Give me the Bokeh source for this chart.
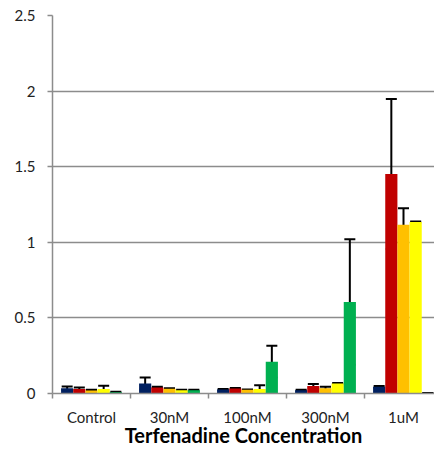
from bokeh.plotting import figure
from bokeh.models import ColumnDataSource, Whisker, FixedTicker, Range1d, TeeHead
from bokeh.embed import file_html
from bokeh.resources import INLINE
import pandas as pd

categories = ["Control", "30nM", "100nM", "300nM", "1uM"]
series = ["S1", "S2", "S3", "S4", "S5"]
colors = ["#002060", "#C00000", "#FFC000", "#FFFF00", "#00B050"]
x_title = "Terfenadine Concentration"

s1_vals = [0.035, 0.066, 0.026, 0.022, 0.044]
s1_errs = [0.012, 0.040, 0.004, 0.003, 0.006]
s2_vals = [0.030, 0.040, 0.033, 0.050, 1.451]
s2_errs = [0.010, 0.004, 0.004, 0.013, 0.496]
s3_vals = [0.020, 0.031, 0.024, 0.034, 1.116]
s3_errs = [0.004, 0.003, 0.003, 0.010, 0.110]
s4_vals = [0.030, 0.022, 0.030, 0.066, 1.134]
s4_errs = [0.022, 0.003, 0.025, 0.003, 0.003]
s5_vals = [0.008, 0.022, 0.210, 0.605, 0.003]
s5_errs = [0.003, 0.003, 0.105, 0.415, 0.001]

vals = [s1_vals, s2_vals, s3_vals, s4_vals, s5_vals]
errs = [s1_errs, s2_errs, s3_errs, s4_errs, s5_errs]

BW = 0.156
W, H = 434, 449
LEFT, TOP, BOTTOM = 52, 15, 56
CAT_PX = 78
x_end = (W - LEFT) / CAT_PX
FONT = "Lato"

p = figure(width=W, height=H, output_backend="svg", toolbar_location=None,
           x_range=Range1d(0, x_end), y_range=Range1d(0, 2.5),
           min_border_left=LEFT, min_border_right=0, min_border_top=TOP, min_border_bottom=BOTTOM)
p.outline_line_color = None
p.background_fill_color = "white"
p.border_fill_color = "white"

for k in range(len(series)):
    xs = [i + 0.5 + (k - 2) * BW for i in range(len(categories))]
    df = pd.DataFrame({"x": xs, "top": vals[k],
                       "lower": [v - e for v, e in zip(vals[k], errs[k])],
                       "upper": [v + e for v, e in zip(vals[k], errs[k])]})
    src = ColumnDataSource(df)
    p.vbar(x="x", top="top", bottom=0, width=BW, source=src, fill_color=colors[k], line_color=None)
    w = Whisker(base="x", lower="lower", upper="upper", source=src, line_color="black", line_width=2,
                upper_head=TeeHead(size=11, line_color="black", line_width=2),
                lower_head=TeeHead(size=11, line_color="black", line_width=2))
    p.add_layout(w)

grid_col = "#8c8c8c"
p.xgrid.visible = False
p.ygrid.grid_line_color = grid_col
p.ygrid.grid_line_width = 1.5
p.yaxis.ticker = FixedTicker(ticks=[0, 0.5, 1, 1.5, 2, 2.5])
p.yaxis.major_label_overrides = {0: "0", 0.5: "0.5", 1: "1", 1.5: "1.5", 2: "2", 2.5: "2.5"}
p.yaxis.axis_line_color = grid_col
p.yaxis.axis_line_width = 1.5
p.yaxis.major_tick_line_color = grid_col
p.yaxis.major_tick_line_width = 1.5
p.yaxis.major_tick_out = 5
p.yaxis.major_tick_in = 0
p.yaxis.minor_tick_line_color = None
p.yaxis.major_label_standoff = 12
p.yaxis.major_label_text_font = FONT
p.yaxis.major_label_text_font_size = "15px"
p.yaxis.major_label_text_color = "#222222"

p.xaxis.ticker = FixedTicker(ticks=[i + 0.5 for i in range(len(categories))],
                             minor_ticks=list(range(len(categories) + 1)))
p.xaxis.major_label_overrides = {i + 0.5: c for i, c in enumerate(categories)}
p.xaxis.axis_line_color = grid_col
p.xaxis.axis_line_width = 1.5
p.xaxis.major_tick_line_color = None
p.xaxis.major_tick_out = 0
p.xaxis.major_tick_in = 0
p.xaxis.minor_tick_line_color = grid_col
p.xaxis.minor_tick_line_width = 1.5
p.xaxis.minor_tick_out = 5
p.xaxis.minor_tick_in = 0
p.xaxis.major_label_standoff = 9
p.xaxis.major_label_text_font = FONT
p.xaxis.major_label_text_font_size = "15px"
p.xaxis.major_label_text_color = "#222222"
p.xaxis.axis_label = x_title
p.xaxis.axis_label_text_font = FONT
p.xaxis.axis_label_text_font_style = "bold"
p.xaxis.axis_label_text_font_size = "20px"
p.xaxis.axis_label_text_color = "#000000"
p.xaxis.axis_label_standoff = -6

open("out.html", "w").write(file_html(p, INLINE))
